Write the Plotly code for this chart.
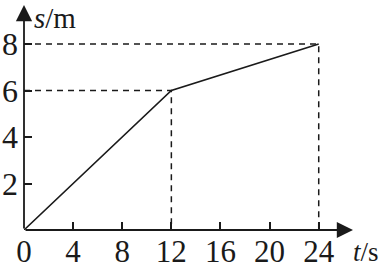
import plotly.graph_objects as go

# data
t_vals = [0, 12, 24]
s_vals = [0, 6, 8]
x_ticks = [0, 4, 8, 12, 16, 20, 24]
y_ticks = [2, 4, 6, 8]
x_label = "<i>t</i>/s"
y_label = "<i>s</i>/m"

FONT = "Times New Roman, Liberation Serif, serif"
INK = "#1a1a1a"

fig = go.Figure()

# dashed guide lines
for tx, sy in [(t_vals[1], s_vals[1]), (t_vals[2], s_vals[2])]:
    fig.add_trace(go.Scatter(x=[0, tx, tx], y=[sy, sy, 0], mode="lines",
                             line=dict(color=INK, width=1.5, dash="6px,5px"),
                             hoverinfo="skip", showlegend=False))

# data line
fig.add_trace(go.Scatter(x=t_vals, y=s_vals, mode="lines",
                         line=dict(color=INK, width=1.6),
                         showlegend=False))

x_end = (353 - 24) / 12.28
y_end = (230 - 5) / 23.25

annotations = [
    dict(x=x_end, y=0, ax=0, ay=0, xref="x", yref="y", axref="x", ayref="y",
         showarrow=True, arrowhead=2, arrowsize=1.8, arrowwidth=1.8, arrowcolor=INK, text=""),
    dict(x=0, y=y_end, ax=0, ay=0, xref="x", yref="y", axref="x", ayref="y",
         showarrow=True, arrowhead=2, arrowsize=1.8, arrowwidth=1.8, arrowcolor=INK, text=""),
    dict(x=(32 - 24) / 358, y=1 - 18 / 230, xref="paper", yref="paper", text=y_label,
         showarrow=False, xanchor="left", yanchor="middle",
         font=dict(family=FONT, size=29, color=INK)),
    dict(x=1, y=-(252 - 230) / 230, xref="paper", yref="paper", text=x_label,
         showarrow=False, xanchor="right", yanchor="middle", xshift=-1,
         font=dict(family=FONT, size=27, color=INK)),
]

fig.update_layout(
    width=382, height=265,
    margin=dict(l=24, r=0, t=0, b=35, autoexpand=False),
    paper_bgcolor="white", plot_bgcolor="white",
    annotations=annotations,
    xaxis=dict(range=[0, 358 / 12.28], tickvals=x_ticks, ticktext=[str(v) for v in x_ticks],
               ticks="inside", ticklen=8, tickwidth=1.5, tickcolor=INK, automargin=False,
               showgrid=False, zeroline=False, showline=False,
               tickfont=dict(family=FONT, size=31, color=INK)),
    yaxis=dict(range=[0, 230 / 23.25], tickvals=y_ticks, ticktext=[str(v) for v in y_ticks],
               ticks="inside", ticklen=8, tickwidth=1.5, tickcolor=INK, automargin=False,
               showgrid=False, zeroline=False, showline=False, ticklabelstandoff=5,
               tickfont=dict(family=FONT, size=32, color=INK)),
)

fig.write_html("out.html")
